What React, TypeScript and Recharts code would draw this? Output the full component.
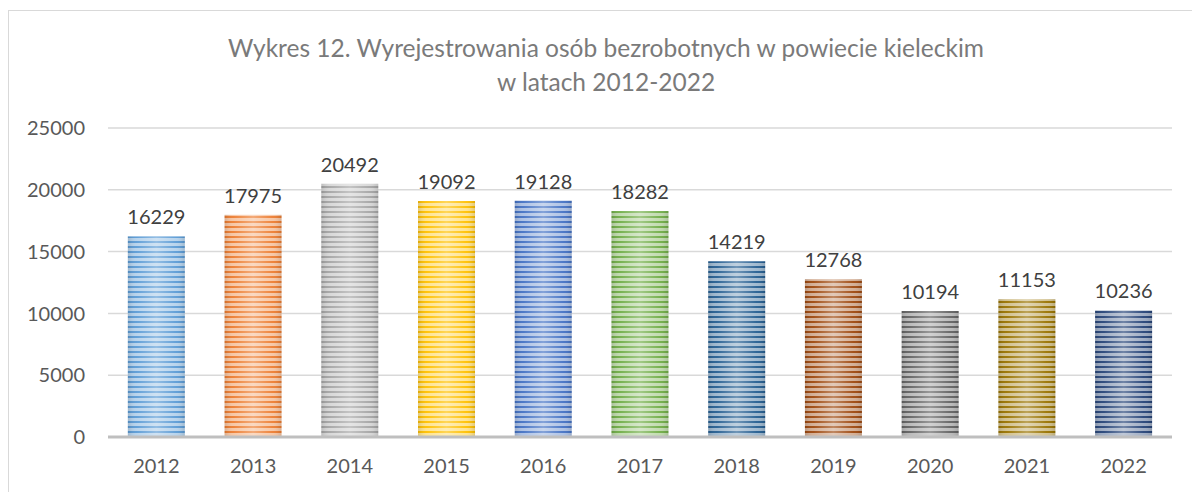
import { BarChart, Bar, XAxis, YAxis, CartesianGrid, Cell, LabelList } from "recharts";

const years = ["2012", "2013", "2014", "2015", "2016", "2017", "2018", "2019", "2020", "2021", "2022"];
const deregistered = [16229, 17975, 20492, 19092, 19128, 18282, 14219, 12768, 10194, 11153, 10236];
const yTicks = [0, 5000, 10000, 15000, 20000, 25000];

const BAR_COLORS = [
  "#5B9BD5", "#ED7D31", "#A5A5A5", "#FFC000", "#4472C4", "#70AD47",
  "#255E91", "#9E480E", "#636363", "#997300", "#264478",
];

const FONT = "Lato, 'Noto Sans', sans-serif";

const data = years.map((year, i) => ({ year, value: deregistered[i] }));

// light tint of a hex colour, for the pale stripes
function tint(hex: string, amt: number) {
  const n = parseInt(hex.slice(1), 16);
  const r = (n >> 16) & 255, g = (n >> 8) & 255, b = n & 255;
  const mix = (c: number) => Math.round(c + (255 - c) * amt);
  return `rgb(${mix(r)},${mix(g)},${mix(b)})`;
}

function StripedBar(props: any) {
  const { x, y, width, height, fill } = props;
  if (!height || height <= 0) return null;
  return (
    <g>
      <rect x={x} y={y} width={width} height={height} fill={fill} />
      <rect x={x} y={y} width={width} height={height} fill="url(#shine)" />
    </g>
  );
}

export default function App() {
  return (
    <div style={{ position: "fixed", left: 0, top: 0, width: 1192, height: 492, overflow: "hidden", background: "#fff" }}>
      <div
        style={{
          position: "absolute",
          left: 8,
          top: 10,
          width: 1194,
          height: 500,
          border: "1px solid #d9d9d9",
          fontFamily: FONT,
        }}
      >
        <div
          style={{
            position: "absolute",
            left: 0,
            top: 20,
            width: 1194,
            textAlign: "center",
            color: "#7a7a7a",
            fontSize: 24.5,
            lineHeight: "34px",
          }}
        >
          Wykres 12. Wyrejestrowania osób bezrobotnych w powiecie kieleckim
          <br />
          w latach 2012-2022
        </div>
        <BarChart
          width={1194}
          height={490}
          data={data}
          margin={{ top: 117, right: 31, bottom: 24, left: 0 }}
          barCategoryGap="20.5%"
        >
          <defs>
            {BAR_COLORS.map((c, i) => (
              <pattern key={i} id={`stripe-${i}`} patternUnits="userSpaceOnUse" width={8} height={5}>
                <rect x={0} y={0} width={8} height={5} fill={tint(c, 0.55)} />
                <rect x={0} y={0} width={8} height={2} fill={c} />
              </pattern>
            ))}
            <linearGradient id="shine" x1="0" y1="0" x2="1" y2="0">
              <stop offset="0%" stopColor="#000" stopOpacity={0.12} />
              <stop offset="15%" stopColor="#fff" stopOpacity={0.05} />
              <stop offset="50%" stopColor="#fff" stopOpacity={0.35} />
              <stop offset="85%" stopColor="#fff" stopOpacity={0.05} />
              <stop offset="100%" stopColor="#000" stopOpacity={0.12} />
            </linearGradient>
          </defs>
          <CartesianGrid vertical={false} stroke="#d9d9d9" strokeWidth={1.5} />
          <XAxis
            dataKey="year"
            axisLine={{ stroke: "#BFBFBF", strokeWidth: 3 }}
            tickLine={false}
            tickSize={0}
            tickMargin={22}
            height={40}
            tick={{ fill: "#595959", fontSize: 20, fontFamily: FONT }}
          />
          <YAxis
            domain={[0, 25000]}
            ticks={yTicks}
            axisLine={false}
            tickLine={false}
            tickSize={0}
            tickMargin={23}
            width={99}
            tick={{ fill: "#595959", fontSize: 20, fontFamily: FONT }}
          />
          <Bar dataKey="value" shape={<StripedBar />} isAnimationActive={false}>
            {data.map((_, i) => (
              <Cell key={i} fill={`url(#stripe-${i})`} />
            ))}
            <LabelList
              dataKey="value"
              position="top"
              offset={12}
              fill="#404040"
              fontSize={20}
              fontFamily={FONT}
            />
          </Bar>
        </BarChart>
      </div>
    </div>
  );
}
